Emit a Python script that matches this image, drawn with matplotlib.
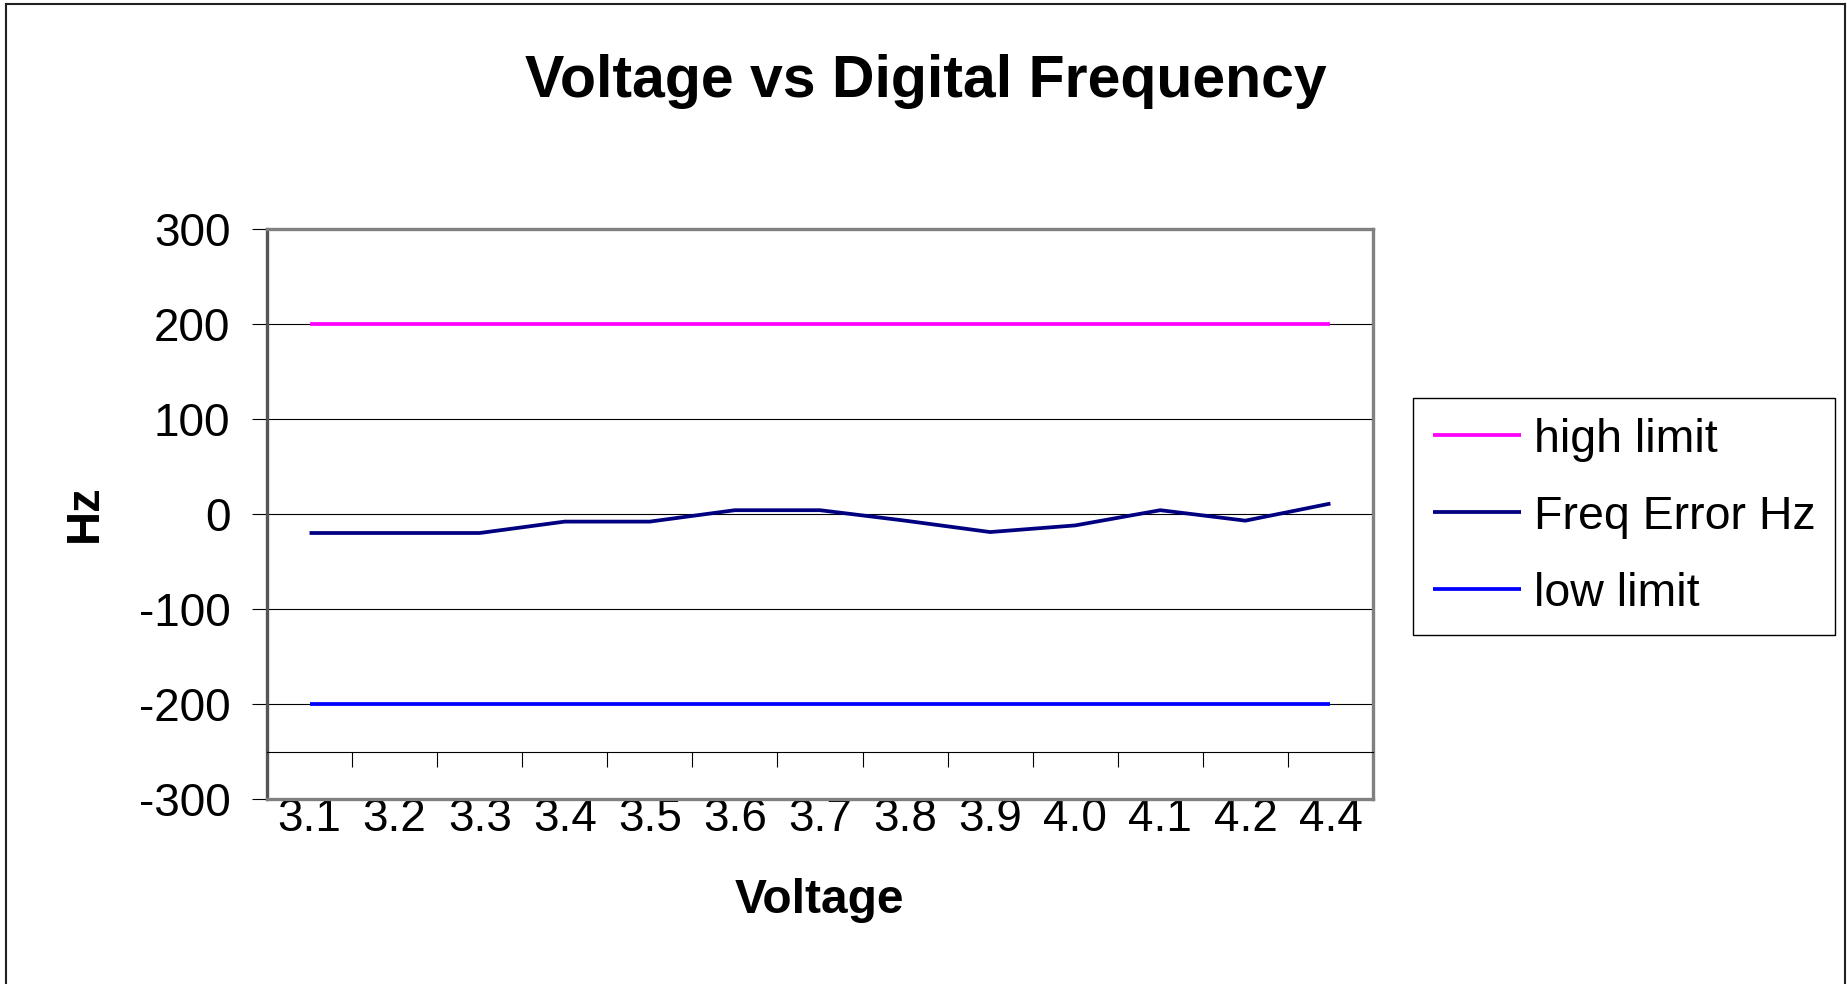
import matplotlib
matplotlib.use("Agg")
import matplotlib.pyplot as plt
from matplotlib.lines import Line2D
import numpy as np

plt.rcParams['font.family'] = ['Liberation Sans', 'DejaVu Sans']
plt.rcParams['axes.unicode_minus'] = False

# ---- data ----
voltages = ["3.1", "3.2", "3.3", "3.4", "3.5", "3.6", "3.7", "3.8", "3.9", "4.0", "4.1", "4.2", "4.4"]
high_limit = [200] * 13
freq_error = [-20, -20, -20, -8, -8, 4, 4, -7, -19, -12, 4, -7, 11]
low_limit = [-200] * 13
y_ticks = [-300, -200, -100, 0, 100, 200, 300]

W, H = 1847, 984
fig = plt.figure(figsize=(W / 100, H / 100), dpi=100)
fig.patch.set_facecolor('white')

# axes placement (pixels from top-left)
L, R, T, B = 267, 1373, 229, 799
ax = fig.add_axes([L / W, 1 - B / H, (R - L) / W, (B - T) / H])

x = np.arange(len(voltages))
lw = 2.7
ax.plot(x, high_limit, color='#FF00FF', lw=lw, label='high limit', solid_capstyle='butt', zorder=3)
ax.plot(x, freq_error, color='#000080', lw=lw, label='Freq Error Hz', solid_capstyle='butt', zorder=3)
ax.plot(x, low_limit, color='#0000FF', lw=lw, label='low limit', solid_capstyle='butt', zorder=3)

ax.set_xlim(-0.5, len(voltages) - 0.5)
ax.set_ylim(-300, 300)

# grid
ax.set_yticks(y_ticks)
ax.yaxis.grid(True, color='black', lw=0.8)
ax.set_axisbelow(True)

# y ticks
ax.tick_params(axis='y', direction='out', length=10.8, width=0.8, color='black',
               pad=15.5, labelsize=33)

# x axis: spine at -250, ticks between categories
ax.spines['bottom'].set_position(('data', -250))
ax.spines['bottom'].set_color('black')
ax.spines['bottom'].set_linewidth(0.8)
ax.set_xticks(x)
ax.set_xticklabels(voltages)
ax.set_xticks(np.arange(-0.5, len(voltages), 1.0), minor=True)
ax.tick_params(axis='x', which='major', length=0, pad=32.5, labelsize=33)
ax.tick_params(axis='x', which='minor', direction='out', length=10.8, width=0.8, color='black')

# plot-area border
for s in ('top', 'right'):
    ax.spines[s].set_color('#808080')
    ax.spines[s].set_linewidth(2.4)
ax.spines['left'].set_color('#555555')
ax.spines['left'].set_linewidth(2.4)
ax.axhline(-300, color='#808080', lw=2.4, clip_on=False, zorder=4)

# axis titles and chart title
fig.text(84.5 / W, 1 - 513 / H, 'Hz', rotation=90, ha='center', va='center',
         fontsize=34, fontweight='bold')
fig.text(819 / W, 1 - 913 / H, 'Voltage', ha='center', va='baseline',
         fontsize=34.5, fontweight='bold')
fig.text(926 / W, 1 - 97 / H, 'Voltage vs Digital Frequency', ha='center', va='baseline',
         fontsize=42.5, fontweight='bold')

# legend
leg = fig.legend(loc='upper left', bbox_to_anchor=(1413 / W, 1 - 398 / H),
                 bbox_transform=fig.transFigure, borderaxespad=0, fontsize=33.5,
                 handlelength=1.9, handletextpad=0.28, borderpad=0.42,
                 labelspacing=0.71, fancybox=False, framealpha=1, edgecolor='black')
leg.get_frame().set_linewidth(1.0)

# chart border (bottom edge lies outside the image)
fig.add_artist(Line2D([6 / W, 6 / W], [0, 1 - 4 / H], transform=fig.transFigure, color='#202020', lw=1.5))
fig.add_artist(Line2D([6 / W, 1845 / W], [1 - 4 / H, 1 - 4 / H], transform=fig.transFigure, color='#202020', lw=1.5))
fig.add_artist(Line2D([1845 / W, 1845 / W], [0, 1 - 4 / H], transform=fig.transFigure, color='#202020', lw=1.5))

fig.savefig('out.png', dpi=100, facecolor='white')
